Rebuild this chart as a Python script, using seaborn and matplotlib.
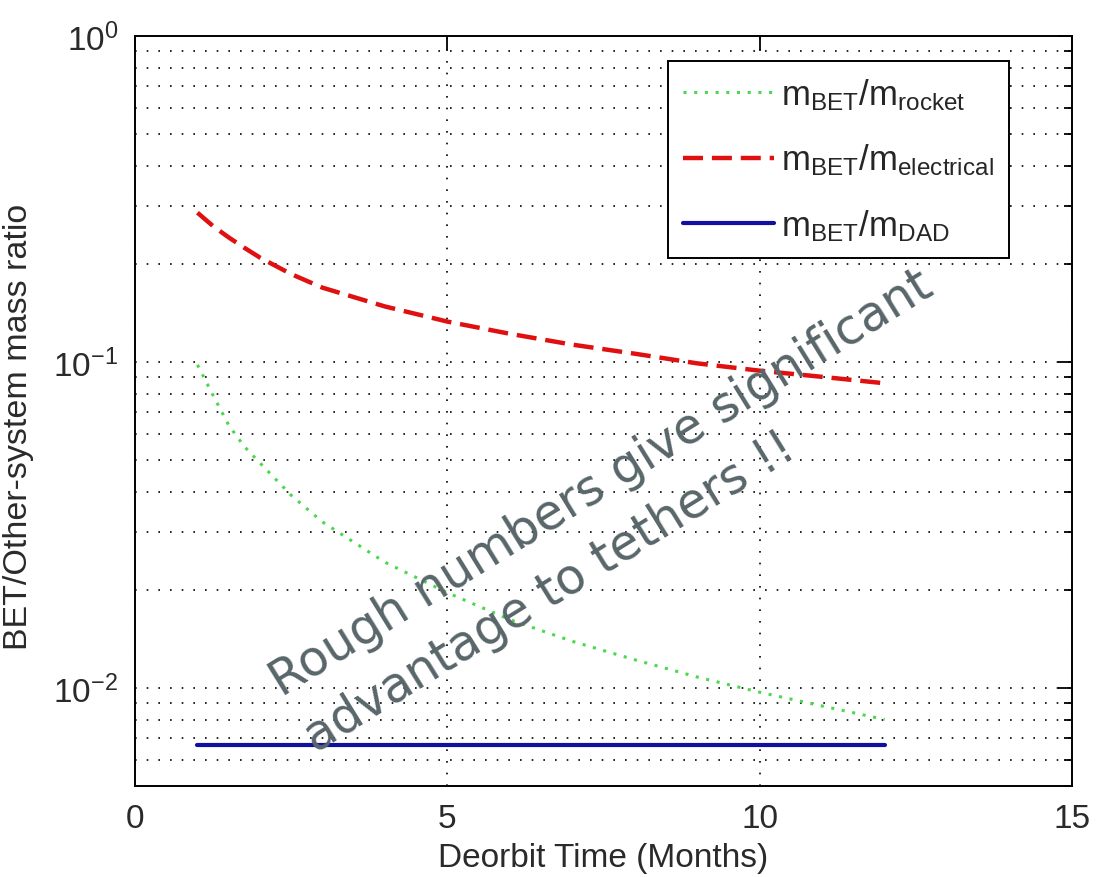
import numpy as np
import pandas as pd
import matplotlib
matplotlib.use('Agg')
import matplotlib.pyplot as plt
import seaborn as sns
from matplotlib.ticker import LogLocator, NullFormatter

# dados
months = [1, 1.25, 1.5, 1.75, 2, 2.5, 3, 4, 5, 6, 7, 8, 9, 10, 11, 12]
ratio_rocket = [0.098, 0.079, 0.064, 0.055, 0.049, 0.039, 0.0323, 0.0243, 0.0196,
                0.0162, 0.0139, 0.0122, 0.0108, 0.0097, 0.0088, 0.0080]
ratio_electrical = [0.287, 0.261, 0.241, 0.224, 0.209, 0.186, 0.169, 0.148, 0.133,
                    0.122, 0.113, 0.106, 0.099, 0.094, 0.090, 0.086]
ratio_dad = [0.0067] * len(months)

labels = [r'$\mathregular{m_{BET}/m_{rocket}}$',
          r'$\mathregular{m_{BET}/m_{electrical}}$',
          r'$\mathregular{m_{BET}/m_{DAD}}$']

sns.set_style('white')
plt.rcParams['font.family'] = ['Liberation Sans', 'DejaVu Sans']
plt.rcParams['mathtext.fontset'] = 'custom'
plt.rcParams['mathtext.rm'] = 'Liberation Sans'
plt.rcParams['mathtext.it'] = 'Liberation Sans'
plt.rcParams['mathtext.default'] = 'regular'

df = pd.DataFrame({'month': months, 'rocket': ratio_rocket,
                   'electrical': ratio_electrical, 'dad': ratio_dad})

fig = plt.figure(figsize=(11.01, 8.78), dpi=100)
ax = fig.add_axes([0.1226, 0.1036, 0.8511, 0.8543])

sns.lineplot(data=df, x='month', y='rocket', ax=ax, color='#4cd84c',
             linestyle=(0, (1, 2.5)), linewidth=2.2, label=labels[0])
sns.lineplot(data=df, x='month', y='electrical', ax=ax, color='#e01010',
             linestyle=(0, (4.5, 2)), linewidth=3.2, label=labels[1])
sns.lineplot(data=df, x='month', y='dad', ax=ax, color='#1010a0',
             linestyle='-', linewidth=3, label=labels[2])

ax.set_yscale('log')
ax.set_xlim(0, 15)
ax.set_ylim(0.005, 1)
ax.set_xticks([0, 5, 10, 15])
ax.yaxis.set_major_locator(LogLocator(base=10, numticks=10))
ax.yaxis.set_minor_locator(LogLocator(base=10, subs=np.arange(2, 10), numticks=20))
ax.yaxis.set_minor_formatter(NullFormatter())

ax.tick_params(which='both', direction='in', top=True, right=True,
               labelsize=24, color='black', labelcolor='#2a2a2a', width=1.3)
ax.tick_params(which='major', length=10, pad=12)
ax.tick_params(which='minor', length=6)
for s in ax.spines.values():
    s.set_color('black')
    s.set_linewidth(1.4)

ax.xaxis.grid(True, which='major', color='black', linestyle=(0, (1, 6)), linewidth=1.2)
ax.yaxis.grid(True, which='both', color='black', linestyle=(0, (1, 6)), linewidth=1.2)

ax.set_xlabel('Deorbit Time (Months)', fontsize=24, color='#2a2a2a', labelpad=6)
ax.set_ylabel('BET/Other-system mass ratio', fontsize=24.5, color='#2a2a2a')
ax.yaxis.set_label_coords(-0.108, 0.48)

leg = ax.legend(loc='upper right', bbox_to_anchor=(0.9327, 0.9667), borderaxespad=0,
                fontsize=25, handlelength=2.6, handletextpad=0.2, labelspacing=0.85,
                borderpad=0.45, fancybox=False, framealpha=1, edgecolor='black')
leg.get_frame().set_linewidth(1.4)

wm = '#58666a'
fig.text(282 / 1101, 1 - 697 / 878, 'Rough numbers give significant',
         fontsize=35, color=wm, rotation=31.7, rotation_mode='anchor',
         ha='left', va='baseline', family='DejaVu Sans', zorder=10)
fig.text(316 / 1101, 1 - 753 / 878, 'advantage to tethers !!',
         fontsize=35, color=wm, rotation=31.7, rotation_mode='anchor',
         ha='left', va='baseline', family='DejaVu Sans', zorder=10)

fig.savefig('out.png', dpi=100)
